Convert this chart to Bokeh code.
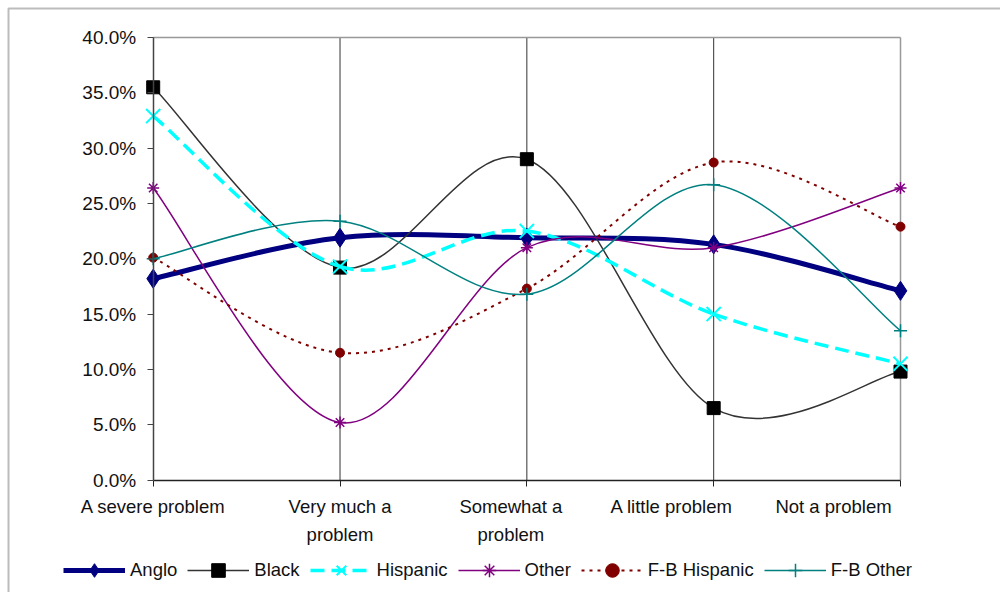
from bokeh.core.properties import value
from bokeh.embed import file_html
from bokeh.models import (BoxAnnotation, ColumnDataSource, FixedTicker, Legend,
                          LegendItem, PrintfTickFormatter, Range1d)
from bokeh.plotting import figure
from bokeh.resources import INLINE

# ---- data -------------------------------------------------------------
categories = ["A severe problem", "Very much a\nproblem", "Somewhat a\nproblem",
              "A little problem", "Not a problem"]
anglo = [18.2, 21.9, 21.9, 21.3, 17.1]
black = [35.5, 19.2, 29.0, 6.5, 9.8]
hispanic = [32.9, 19.3, 22.5, 15.0, 10.5]
other = [26.4, 5.2, 21.0, 21.0, 26.4]
fb_hispanic = [20.1, 11.5, 17.3, 28.7, 22.9]
fb_other = [20.0, 23.4, 16.8, 26.7, 13.5]
y_ticks = [0, 5, 10, 15, 20, 25, 30, 35, 40]

FONT = "Liberation Sans"
W, H = 1000, 592

# plot-area geometry in canvas pixels; the frame covers the whole canvas
PX_LEFT, PX_RIGHT = 152.7, 900.0      # first / last category
PX_TOP, PX_BOTTOM = 37.0, 479.5       # 40 % / 0 %
ux = (PX_RIGHT - PX_LEFT) / 4
uy = (PX_BOTTOM - PX_TOP) / 40
x_range = Range1d(-PX_LEFT / ux, 4 + (W - PX_RIGHT) / ux)
y_range = Range1d(-(H - PX_BOTTOM) / uy, 40 + PX_TOP / uy)


def smooth_segments(ys):
    """Cubic Bezier pieces (Catmull-Rom style) through the points, like a smoothed line."""
    n = len(ys)
    xs = list(range(n))
    xe = [xs[0]] + xs + [xs[-1]]
    ye = [ys[0]] + list(ys) + [ys[-1]]
    d = {k: [] for k in ("x0", "y0", "x1", "y1", "cx0", "cy0", "cx1", "cy1")}
    for i in range(n - 1):
        d["x0"].append(xe[i + 1]); d["y0"].append(ye[i + 1])
        d["x1"].append(xe[i + 2]); d["y1"].append(ye[i + 2])
        d["cx0"].append(xe[i + 1] + (xe[i + 2] - xe[i]) / 6)
        d["cy0"].append(ye[i + 1] + (ye[i + 2] - ye[i]) / 6)
        d["cx1"].append(xe[i + 2] - (xe[i + 3] - xe[i + 1]) / 6)
        d["cy1"].append(ye[i + 2] - (ye[i + 3] - ye[i + 1]) / 6)
    return ColumnDataSource(d)


p = figure(width=W, height=H, output_backend="svg", toolbar_location=None,
           x_range=x_range, y_range=y_range,
           min_border=0, min_border_left=0, min_border_right=0,
           min_border_top=0, min_border_bottom=0)
p.outline_line_color = None
p.background_fill_color = "white"
p.border_fill_color = "white"
p.xgrid.grid_line_color = None
p.ygrid.grid_line_color = None

xs = list(range(len(categories)))

# axes pinned to the zero lines
p.xaxis.fixed_location = 0
p.xaxis.ticker = FixedTicker(ticks=xs)
p.xaxis.major_label_overrides = {i: "" for i in xs}
p.xaxis.major_label_text_font_size = "0px"
p.xaxis.bounds = (0, 4)
p.xaxis.axis_line_color = "#222222"
p.xaxis.axis_line_width = 1.5
p.xaxis.major_tick_line_color = "#222222"
p.xaxis.major_tick_out = 6
p.xaxis.major_tick_in = 0
p.xaxis.minor_tick_line_color = None

p.yaxis.fixed_location = 0
p.yaxis.ticker = FixedTicker(ticks=y_ticks)
p.yaxis.formatter = PrintfTickFormatter(format="%.1f%%")
p.yaxis.bounds = (0, 40)
p.yaxis.axis_line_color = "#444444"
p.yaxis.axis_line_width = 1.5
p.yaxis.major_tick_line_color = "#444444"
p.yaxis.major_tick_out = 6
p.yaxis.major_tick_in = 0
p.yaxis.minor_tick_line_color = None
p.yaxis.major_label_standoff = 11
p.yaxis.major_label_text_font = FONT
p.yaxis.major_label_text_font_size = "19px"
p.yaxis.major_label_text_color = "#111111"

# category labels under the axis
label_shift = [0, 0, -16, -42, -67]
p.text(x=xs, y=[0] * len(xs), text=categories, x_offset=label_shift, y_offset=16,
       text_align="center", text_baseline="top", text_line_height=1.32,
       text_font=value(FONT), text_font_size="18.5px", text_color="#111111")

# vertical grid lines and plot-area edges
p.segment(x0=xs[1:-1], y0=[0] * 3, x1=xs[1:-1], y1=[40] * 3,
          line_color="#333333", line_width=1)
p.segment(x0=[xs[-1], xs[0]], y0=[0, 40], x1=[xs[-1], xs[-1]], y1=[40, 40],
          line_color="#999999", line_width=1.5)

series = [
    ("Anglo", anglo, dict(line_color="#000080", line_width=5),
     dict(marker="diamond", size=19, fill_color="#000080", line_color="#000080")),
    ("Black", black, dict(line_color="#333333", line_width=1.5),
     dict(marker="square", size=13, fill_color="black", line_color="black")),
    ("Hispanic", hispanic, dict(line_color="#00FFFF", line_width=3.5, line_dash="14 7"),
     dict(marker="x", size=20, line_color="#00FFFF", line_width=2)),
    ("Other", other, dict(line_color="#800080", line_width=1.5),
     dict(marker="asterisk", size=12, line_color="#800080", line_width=1.5)),
    ("F-B Hispanic", fb_hispanic, dict(line_color="#800000", line_width=2, line_dash="3 5"),
     dict(marker="circle", size=9, fill_color="#800000", line_color="#800000")),
    ("F-B Other", fb_other, dict(line_color="#008080", line_width=1.5),
     dict(marker="cross", size=13, line_color="#008080", line_width=1.5)),
]

items = []
for name, ys, line_style, marker_style in series:
    r_line = p.bezier(x0="x0", y0="y0", x1="x1", y1="y1", cx0="cx0", cy0="cy0",
                      cx1="cx1", cy1="cy1", source=smooth_segments(ys), **line_style)
    r_mark = p.scatter(x=xs, y=ys, **marker_style)
    items.append(LegendItem(label=name, renderers=[r_line, r_mark]))

# legend row along the bottom (offsets from the frame's bottom-left corner)
legend = Legend(items=items, orientation="horizontal", location=(63, 5),
                glyph_width=62, glyph_height=34, label_standoff=5, spacing=10,
                padding=0, margin=0, border_line_color=None,
                background_fill_alpha=0,
                label_text_font=FONT, label_text_font_size="18.5px",
                label_text_color="#111111")
p.add_layout(legend)

# chart area border
p.add_layout(BoxAnnotation(left=8, right=1400, top=8, bottom=1000,
                           left_units="canvas", right_units="canvas",
                           top_units="canvas", bottom_units="canvas",
                           fill_alpha=0, line_color="#222222", line_width=2))

open("out.html", "w").write(file_html(p, INLINE))
